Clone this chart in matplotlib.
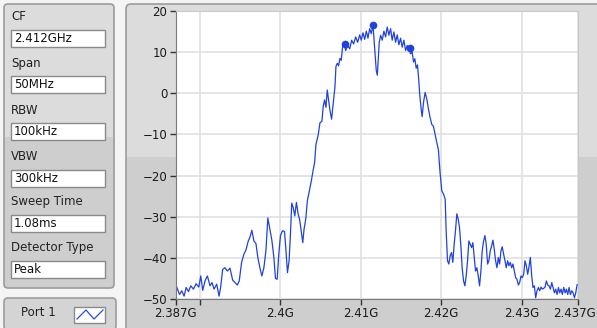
import numpy as np
import matplotlib
matplotlib.use('Agg')
import matplotlib.pyplot as plt
import matplotlib.transforms as mtransforms
from matplotlib.patches import FancyBboxPatch, Rectangle

# spectrum trace, frequency in GHz, level in dBm
freq = [
    2.38700, 2.38725, 2.38750, 2.38778, 2.38807, 2.38832, 2.38861, 2.38890, 2.38923, 2.38956,
    2.38989, 2.39014, 2.39038, 2.39067, 2.39096, 2.39129, 2.39154, 2.39179, 2.39212, 2.39241,
    2.39261, 2.39286, 2.39315, 2.39344, 2.39377, 2.39410, 2.39439, 2.39468, 2.39492, 2.39521,
    2.39550, 2.39575, 2.39604, 2.39624, 2.39649, 2.39674, 2.39699, 2.39723, 2.39748, 2.39773,
    2.39798, 2.39823, 2.39847, 2.39872, 2.39897, 2.39922, 2.39942, 2.39963, 2.39983, 2.40004,
    2.40029, 2.40054, 2.40070, 2.40091, 2.40111, 2.40128, 2.40144, 2.40161, 2.40182, 2.40202,
    2.40223, 2.40243, 2.40264, 2.40281, 2.40297, 2.40318, 2.40338, 2.40359, 2.40388, 2.40409,
    2.40429, 2.40444, 2.40473, 2.40494, 2.40519, 2.40535, 2.40552, 2.40569, 2.40585, 2.40602,
    2.40618, 2.40639, 2.40660, 2.40681, 2.40693, 2.40710, 2.40726, 2.40743, 2.40759, 2.40776,
    2.40793, 2.40814, 2.40839, 2.40864, 2.40888, 2.40913, 2.40938, 2.40963, 2.40988, 2.41008,
    2.41029, 2.41050, 2.41070, 2.41091, 2.41112, 2.41132, 2.41153, 2.41169, 2.41182, 2.41194,
    2.41207, 2.41219, 2.41231, 2.41248, 2.41268, 2.41289, 2.41310, 2.41330, 2.41351, 2.41372,
    2.41392, 2.41413, 2.41434, 2.41454, 2.41475, 2.41496, 2.41516, 2.41537, 2.41558, 2.41578,
    2.41599, 2.41620, 2.41640, 2.41657, 2.41673, 2.41690, 2.41706, 2.41719, 2.41735, 2.41752,
    2.41764, 2.41781, 2.41801, 2.41822, 2.41843, 2.41863, 2.41884, 2.41904, 2.41925, 2.41946,
    2.41966, 2.41975, 2.41988, 2.42008, 2.42029, 2.42050, 2.42062, 2.42079, 2.42095, 2.42112,
    2.42129, 2.42145, 2.42162, 2.42178, 2.42195, 2.42212, 2.42228, 2.42245, 2.42261, 2.42278,
    2.42295, 2.42311, 2.42328, 2.42344, 2.42361, 2.42378, 2.42394, 2.42411, 2.42427, 2.42444,
    2.42461, 2.42477, 2.42494, 2.42510, 2.42527, 2.42544, 2.42560, 2.42577, 2.42593, 2.42610,
    2.42627, 2.42643, 2.42660, 2.42676, 2.42693, 2.42710, 2.42726, 2.42743, 2.42759, 2.42776,
    2.42793, 2.42809, 2.42826, 2.42842, 2.42859, 2.42876, 2.42892, 2.42909, 2.42925, 2.42942,
    2.42959, 2.42975, 2.42992, 2.43008, 2.43025, 2.43042, 2.43058, 2.43075, 2.43091, 2.43108,
    2.43125, 2.43141, 2.43158, 2.43174, 2.43191, 2.43208, 2.43224, 2.43241, 2.43257, 2.43274,
    2.43291, 2.43307, 2.43324, 2.43340, 2.43357, 2.43374, 2.43390, 2.43407, 2.43423, 2.43440,
    2.43457, 2.43473, 2.43490, 2.43506, 2.43523, 2.43540, 2.43556, 2.43573, 2.43589, 2.43606,
    2.43623, 2.43639, 2.43656, 2.43672, 2.43689,
]
level = [
    -46.3, -47.6, -48.9, -48.0, -49.3, -47.2, -48.2, -46.8, -47.6, -46.3,
    -47.1, -44.4, -47.9, -45.6, -44.4, -46.8, -46.0, -47.6, -46.4, -49.3,
    -47.1, -42.8, -42.4, -43.2, -42.5, -45.4, -46.0, -46.6, -45.6, -41.1,
    -39.1, -38.1, -35.9, -35.0, -33.3, -35.9, -36.5, -39.9, -42.4, -44.4,
    -42.4, -38.3, -30.3, -33.0, -35.7, -39.9, -45.0, -45.2, -39.1, -34.6,
    -33.4, -33.6, -37.6, -43.6, -40.7, -34.2, -26.7, -27.7, -29.8, -26.5,
    -29.3, -30.8, -33.8, -36.3, -33.0, -30.6, -26.1, -24.1, -21.2, -18.8,
    -16.7, -12.5, -10.1, -7.2, -6.8, -3.2, -1.6, -3.4, 0.8, -1.6,
    -4.0, -6.3, -2.4, 1.6, 6.5, 7.3, 6.7, 8.5, 8.0, 11.4,
    12.2, 10.4, 11.6, 10.8, 12.9, 12.0, 13.7, 12.4, 14.2, 12.9,
    14.7, 13.1, 15.1, 13.4, 15.7, 14.5, 16.7, 12.4, 9.2, 5.5,
    4.4, 8.4, 12.4, 14.1, 12.9, 15.1, 13.7, 16.1, 14.1, 15.7,
    12.9, 14.9, 12.4, 14.2, 11.8, 13.4, 11.2, 12.9, 10.4, 11.6,
    10.8, 9.6, 10.0, 7.6, 8.4, 6.1, 6.9, 3.9, -0.6, -3.9,
    -5.7, -2.2, 0.2, -1.4, -3.9, -5.9, -7.6, -8.0, -10.0, -12.0,
    -13.7, -16.3, -19.6, -23.7, -24.5, -25.7, -33.4, -40.7, -41.5, -39.5,
    -38.7, -41.1, -36.7, -33.4, -29.3, -30.6, -32.6, -37.1, -42.4, -45.6,
    -46.8, -44.4, -40.7, -35.9, -36.7, -37.5, -36.3, -39.9, -43.2, -42.4,
    -44.4, -46.8, -43.2, -38.3, -35.9, -34.6, -36.7, -41.5, -40.7, -38.3,
    -37.1, -35.7, -37.9, -40.7, -42.4, -39.9, -41.5, -38.3, -37.3, -39.1,
    -40.7, -42.4, -40.7, -41.9, -41.1, -42.4, -41.5, -43.2, -44.8, -45.2,
    -46.6, -46.0, -44.4, -44.8, -44.0, -40.7, -41.9, -44.0, -42.2, -39.9,
    -44.4, -47.2, -46.8, -49.7, -48.0, -47.2, -48.0, -47.1, -47.6, -47.4,
    -47.1, -45.6, -46.6, -46.8, -47.6, -46.0, -47.2, -48.5, -47.6, -48.9,
    -47.2, -48.5, -47.6, -48.9, -47.2, -48.5, -47.6, -48.9, -47.2, -48.9,
    -48.0, -48.5, -49.7, -48.5, -46.5,
]

# peak markers
peak_freq = [2.40802, 2.41153, 2.41615]
peak_level = [12.0, 16.7, 11.0]

xticks = [2.387, 2.39, 2.40, 2.41, 2.42, 2.43, 2.437]
xticklabels = ['2.387G', '', '2.4G', '2.41G', '2.42G', '2.43G', '2.437G']
yticks = [-50, -40, -30, -20, -10, 0, 10, 20]

settings = [('CF', '2.412GHz'), ('Span', '50MHz'), ('RBW', '100kHz'),
            ('VBW', '300kHz'), ('Sweep Time', '1.08ms'), ('Detector Type', 'Peak')]

W, H = 597, 328
fs = 8.5
fig = plt.figure(figsize=(W / 100, H / 100), dpi=100)
fig.patch.set_facecolor('#f4f4f4')

bg = fig.add_axes([0, 0, 1, 1])
bg.set_xlim(0, W)
bg.set_ylim(H, 0)
bg.axis('off')

light = '#dcdcdc'
dark = '#cecece'
edge = '#9c9c9c'

# left settings panel
bg.add_patch(Rectangle((4, 4), 110, 133, fc=light, ec='none'))
bg.add_patch(Rectangle((4, 137), 110, 151, fc=dark, ec='none'))
bg.add_patch(FancyBboxPatch((4, 4), 110, 284, boxstyle='round,pad=0,rounding_size=4',
                            fc='none', ec=edge, lw=1.2))
label_y = [17, 63, 110, 157, 202, 248]
for (name, val), ly in zip(settings, label_y):
    bg.text(11, ly, name, fontsize=fs, color='#222222', va='center', ha='left')
    bg.add_patch(Rectangle((11, ly + 13), 94, 17, fc='white', ec='#8a8a8a', lw=1))
    bg.text(14, ly + 21.5, val, fontsize=fs, color='#111111', va='center', ha='left')

# port button with legend swatch
bg.add_patch(FancyBboxPatch((4, 298), 112, 32, boxstyle='round,pad=0,rounding_size=4',
                            fc='#d4d4d4', ec=edge, lw=1.2))
bg.text(38, 313, 'Port 1', fontsize=fs, color='#222222', va='center', ha='center')
bg.add_patch(Rectangle((74, 307), 31, 16, fc='white', ec='#8a8a8a', lw=1))
bg.plot([77, 86, 94, 103], [319, 310, 319, 310], color='#2a4ae0', lw=0.9)

# graph frame
bg.add_patch(Rectangle((126, 4), 475, 153, fc=light, ec='none'))
bg.add_patch(Rectangle((126, 157), 475, 175, fc=dark, ec='none'))
bg.add_patch(FancyBboxPatch((126, 4), 480, 330, boxstyle='round,pad=0,rounding_size=5',
                            fc='none', ec=edge, lw=1.2))

ax = fig.add_axes([175.5 / W, (H - 299) / H, (578 - 175.5) / W, (299 - 11) / H])
ax.set_facecolor('white')
ax.plot(freq, level, color='#1f42dc', lw=0.9)
ax.plot(peak_freq, peak_level, 'o', color='#1f42dc', ms=4.5)
ax.set_xlim(2.387, 2.437)
ax.set_ylim(-50, 20)
ax.set_xticks(xticks)
ax.set_xticklabels(xticklabels)
ax.set_yticks(yticks)
ax.grid(True, color='#e0e0e0', lw=1.2)
ax.set_axisbelow(True)
ax.tick_params(axis='both', labelsize=fs, colors='#333333', labelcolor='#1a1a1a',
               length=4, width=1)
ax.tick_params(axis='x', pad=2)
ax.tick_params(axis='y', pad=2)
for side in ['top', 'right']:
    ax.spines[side].set_color('#c8c8c8')
for side in ['left', 'bottom']:
    ax.spines[side].set_color('#7a7a7a')

# last label sits against the right edge, nudge it inward a little
last = ax.get_xticklabels()[-1]
last.set_transform(last.get_transform() + mtransforms.ScaledTranslation(-3 / 100, 0, fig.dpi_scale_trans))

fig.savefig('out.png', dpi=100, facecolor=fig.get_facecolor())
